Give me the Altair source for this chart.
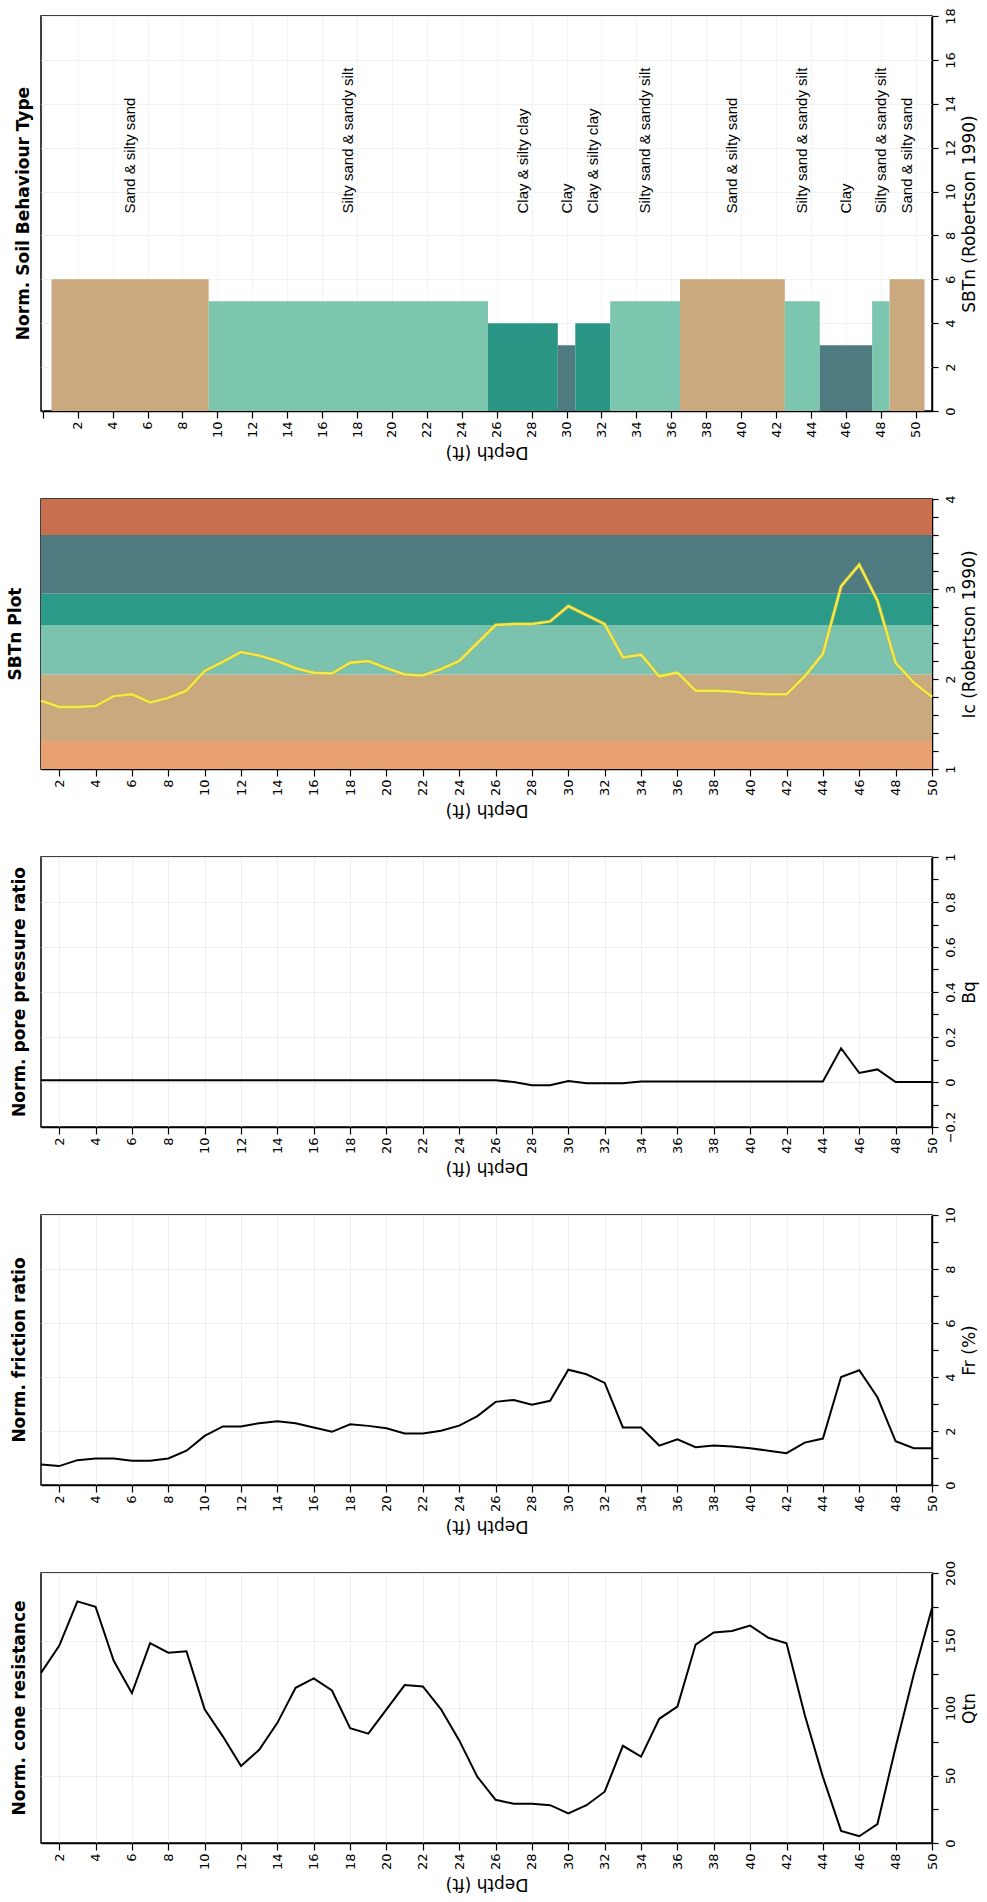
import altair as alt
import pandas as pd

# ---- CPT sounding, one reading per foot of depth ----
depth = list(range(1, 51))

qtn = [126, 146, 179, 175, 135, 111, 148, 141, 142, 99,
       79, 57, 69, 89, 115, 122, 113, 85, 81, 99,
       117, 116, 99, 76, 49, 32, 29, 29, 28, 22,
       28, 38, 72, 64, 92, 101, 147, 156, 157, 161,
       152, 148, 95, 49, 9, 5, 14, 71, 125, 174]

fr = [0.76, 0.70, 0.92, 0.98, 0.98, 0.90, 0.90, 0.98, 1.27, 1.82,
      2.17, 2.17, 2.29, 2.36, 2.29, 2.13, 1.97, 2.25, 2.19, 2.10,
      1.91, 1.91, 2.01, 2.20, 2.55, 3.08, 3.15, 2.97, 3.12, 4.27,
      4.10, 3.78, 2.13, 2.13, 1.46, 1.69, 1.40, 1.46, 1.43, 1.36,
      1.27, 1.18, 1.57, 1.72, 4.00, 4.25, 3.25, 1.62, 1.36, 1.36]

bq = [0.008] * 26 + [0.0, -0.014, -0.014, 0.004, -0.006, -0.006, -0.006,
                     0.002, 0.002, 0.002, 0.002, 0.002, 0.002, 0.002, 0.002,
                     0.002, 0.002, 0.002, 0.15, 0.04, 0.056, 0.0, 0.0, 0.0]

ic = [1.76, 1.69, 1.69, 1.70, 1.81, 1.83, 1.74, 1.79, 1.87, 2.09,
      2.19, 2.30, 2.26, 2.20, 2.12, 2.07, 2.06, 2.18, 2.20, 2.12,
      2.05, 2.04, 2.11, 2.20, 2.40, 2.60, 2.61, 2.61, 2.64, 2.81,
      2.71, 2.61, 2.24, 2.27, 2.03, 2.07, 1.87, 1.87, 1.86, 1.84,
      1.83, 1.83, 2.03, 2.28, 3.03, 3.27, 2.87, 2.18, 1.96, 1.80]

# ---- soil behaviour type layers ----
layer_top = [0.5, 9.5, 25.5, 29.5, 30.5, 32.5, 36.5, 42.5, 44.5, 47.5, 48.5]
layer_bottom = [9.5, 25.5, 29.5, 30.5, 32.5, 36.5, 42.5, 44.5, 47.5, 48.5, 50.5]
layer_type = ["Sand & silty sand", "Silty sand & sandy silt", "Clay & silty clay",
              "Clay", "Clay & silty clay", "Silty sand & sandy silt",
              "Sand & silty sand", "Silty sand & sandy silt", "Clay",
              "Silty sand & sandy silt", "Sand & silty sand"]
layer_zone = [6, 5, 4, 3, 4, 5, 6, 5, 3, 5, 6]

soil_types = ["Sand & silty sand", "Silty sand & sandy silt", "Clay & silty clay", "Clay"]
soil_colors = ["#c9a97d", "#7cc5af", "#2b9686", "#4e7b80"]

# ---- Ic zone boundaries (Robertson 1990) ----
zone_name = ["z7", "z6", "z5", "z4", "z3", "z2"]
zone_lo = [1.0, 1.31, 2.05, 2.6, 2.95, 3.6]
zone_hi = [1.31, 2.05, 2.6, 2.95, 3.6, 4.0]
zone_colors = ["#eaa172", "#caa97e", "#7bc3ae", "#2b9a89", "#4f7b80", "#c8704d"]

depth_ticks = list(range(2, 51, 2))
depth_ticks_sbt = list(range(0, 51, 2))

W = 891
FONT = "DejaVu Sans"
NARROW = "Liberation Sans Narrow, Arial Narrow, Liberation Sans, sans-serif"
GRID = "#eeeeee"

cpt = pd.DataFrame({"depth": depth, "qtn": qtn, "fr": fr, "bq": bq, "ic": ic})
layers = pd.DataFrame({"top": layer_top, "bottom": layer_bottom, "type": layer_type,
                       "zone": layer_zone})
layers["mid"] = (layers["top"] + layers["bottom"]) / 2
zones = pd.DataFrame({"zone": zone_name, "lo": zone_lo, "hi": zone_hi,
                      "d0": min(depth), "d1": max(depth)})


def depth_axis(values, label_expr=None, grid_color=GRID, grid_opacity=1):
    kw = dict(values=values, title="Depth (ft)", orient="bottom",
              labelAngle=270, labelAlign="right", labelBaseline="middle",
              labelFont=FONT, labelFontSize=13, labelPadding=3, tickSize=7,
              titleAngle=180, titleBaseline="bottom", titleFont=FONT,
              titleFontSize=17, titleFontWeight="normal", titlePadding=5,
              grid=True, gridColor=grid_color, gridOpacity=grid_opacity)
    if label_expr:
        kw["labelExpr"] = label_expr
    return alt.Axis(**kw)


def value_axis(title, values, label_test, label_expr, grid=True, grid_color=GRID):
    kw = dict(orient="right", title=title, values=values, labelExpr=label_expr,
              labelAngle=270, labelAlign="center", labelBaseline="top",
              labelFont=FONT, labelFontSize=13, labelPadding=6, tickSize=6,
              titleAngle=270, titleBaseline="top", titleFont=FONT,
              titleFontSize=17, titleFontWeight="normal", titlePadding=4,
              grid=grid)
    if grid:
        kw["gridColor"] = grid_color
        kw["gridOpacity"] = {"condition": {"test": label_test, "value": 1}, "value": 0}
    return alt.Axis(**kw)


def panel_title(text):
    return alt.TitleParams(text, orient="left", anchor="middle", font=FONT,
                           fontSize=17, fontWeight="bold", color="black", offset=8)


x_main = alt.Scale(domain=[1, 50], nice=False, zero=False)

# ---- Panel 1: normalised soil behaviour type ----
x_sbt_axis = depth_axis(depth_ticks_sbt, "datum.value == 0 ? '' : datum.label",
                        grid_color="#f3f3f3")
x_sbt_scale = alt.Scale(domain=[-0.1, 50.93], nice=False, zero=False)
y_sbt_axis = value_axis("SBTn (Robertson 1990)", list(range(0, 19)),
                        "datum.value % 2 == 0",
                        "datum.value % 2 == 0 ? datum.label : ''",
                        grid_color="#f3f3f3")
y_sbt_scale = alt.Scale(domain=[0, 18], nice=False, zero=False)

sbt_bars = alt.Chart(layers).mark_rect().encode(
    x=alt.X("top:Q", scale=x_sbt_scale, axis=x_sbt_axis),
    x2="bottom:Q",
    y=alt.Y("zone:Q", scale=y_sbt_scale, axis=y_sbt_axis),
    y2=alt.datum(0),
    color=alt.Color("type:N", scale=alt.Scale(domain=soil_types, range=soil_colors),
                    legend=None),
)
sbt_text = alt.Chart(layers).mark_text(
    angle=270, align="left", baseline="middle", font=NARROW, fontSize=15, color="black"
).encode(
    x=alt.X("mid:Q", scale=x_sbt_scale, axis=x_sbt_axis),
    y=alt.datum(9),
    text="type:N",
)
p1 = alt.layer(sbt_bars, sbt_text).properties(
    width=W, height=395, title=panel_title("Norm. Soil Behaviour Type"))

# ---- Panel 2: SBTn plot (Ic with zone bands) ----
x_ic_axis = depth_axis(depth_ticks, grid_color="#ffffff", grid_opacity=0.3)
y_ic_vals = [round(1 + 0.2 * i, 1) for i in range(16)]
y_ic_axis = value_axis("Ic (Robertson 1990)", y_ic_vals,
                       "abs(datum.value - round(datum.value)) < 0.01",
                       "abs(datum.value - round(datum.value)) < 0.01 ? format(datum.value, 'd') : ''",
                       grid=False)
y_ic_scale = alt.Scale(domain=[1, 4], nice=False, zero=False)

bands = alt.Chart(zones).mark_rect().encode(
    x=alt.X("d0:Q", scale=x_main, axis=x_ic_axis),
    x2="d1:Q",
    y=alt.Y("lo:Q", scale=y_ic_scale, axis=y_ic_axis),
    y2="hi:Q",
    color=alt.Color("zone:N", scale=alt.Scale(domain=zone_name, range=zone_colors),
                    legend=None),
)
ic_under = alt.Chart(cpt).mark_line(color="#b8a63a", strokeWidth=4, opacity=0.5).encode(
    x=alt.X("depth:Q", scale=x_main, axis=x_ic_axis),
    y=alt.Y("ic:Q", scale=y_ic_scale, axis=y_ic_axis),
)
ic_line = alt.Chart(cpt).mark_line(color="#f3ea4a", strokeWidth=2.5).encode(
    x=alt.X("depth:Q", scale=x_main, axis=x_ic_axis),
    y=alt.Y("ic:Q", scale=y_ic_scale, axis=y_ic_axis),
)
p2 = alt.layer(bands, ic_under, ic_line).properties(
    width=W, height=270, title=panel_title("SBTn Plot"))


# ---- Panels 3-5: simple depth profiles ----
def profile(field, title, axis_title, domain, tick_vals, label_test, label_expr):
    ax_x = depth_axis(depth_ticks)
    ax_y = value_axis(axis_title, tick_vals, label_test, label_expr)
    return alt.Chart(cpt).mark_line(color="black", strokeWidth=2).encode(
        x=alt.X("depth:Q", scale=x_main, axis=ax_x),
        y=alt.Y(f"{field}:Q", scale=alt.Scale(domain=domain, nice=False, zero=False),
                axis=ax_y),
    ).properties(width=W, height=270, title=panel_title(title))


bq_vals = [round(-0.2 + 0.1 * i, 1) for i in range(13)]
p3 = profile("bq", "Norm. pore pressure ratio", "Bq", [-0.2, 1], bq_vals,
             "round(datum.value * 10) % 2 == 0",
             "round(datum.value * 10) % 2 == 0 ? format(datum.value, '.1~f') : ''")
p4 = profile("fr", "Norm. friction ratio", "Fr (%)", [0, 10], list(range(0, 11)),
             "datum.value % 2 == 0",
             "datum.value % 2 == 0 ? datum.label : ''")
p5 = profile("qtn", "Norm. cone resistance", "Qtn", [0, 200], list(range(0, 201, 25)),
             "datum.value % 50 == 0",
             "datum.value % 50 == 0 ? datum.label : ''")

chart = alt.vconcat(p1, p2, p3, p4, p5, spacing=88, bounds="flush").resolve_scale(
    color="independent"
).properties(
    padding={"left": 6, "top": 6, "right": 2, "bottom": 2},
    background="white",
).configure_view(
    stroke="black", strokeWidth=1.5
).configure_axis(
    domainColor="black", domainWidth=1.5, tickColor="black", tickWidth=1.2,
    labelColor="black", titleColor="black"
)

chart.save("out.html", embed_options={"renderer": "svg", "actions": False})
